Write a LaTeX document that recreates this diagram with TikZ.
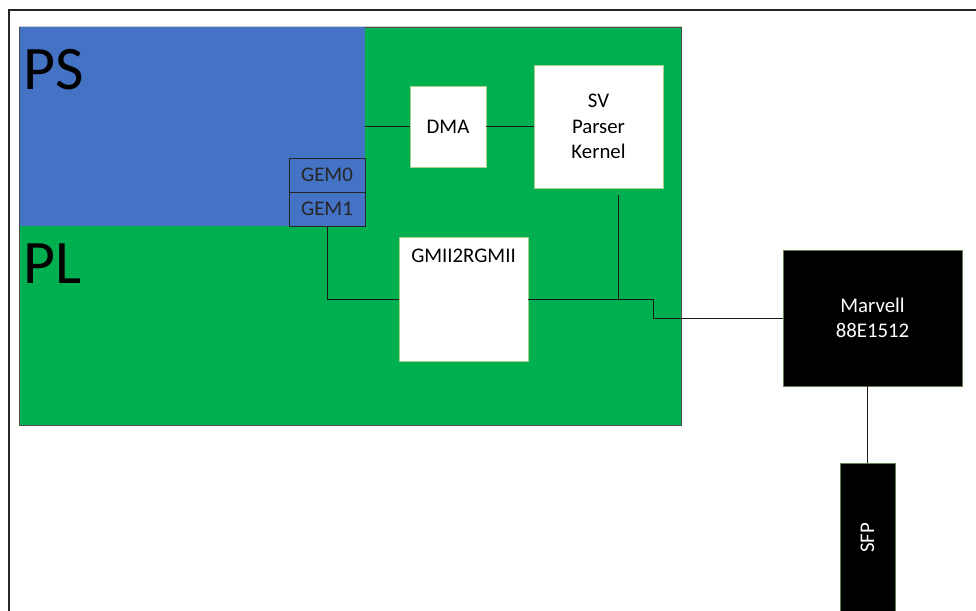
\documentclass[tikz,border=0pt]{standalone}
\usepackage{fontspec}
\setmainfont{Carlito}
\usepackage{xcolor}
\usetikzlibrary{positioning}
\definecolor{psblue}{HTML}{4472C4}
\definecolor{plgreen}{HTML}{00B050}
\definecolor{boxedge}{HTML}{A9D18E}
\begin{document}
\begin{tikzpicture}[
  x=0.025cm, y=-0.025cm,
  font=\fontsize{14.8}{18}\selectfont,
  region/.style={rectangle, inner sep=0pt},
  blk/.style={draw=boxedge, fill=white, line width=0.5pt, align=center, inner sep=2pt},
  chip/.style={draw=boxedge!60!black, fill=black, text=white, line width=0.5pt, align=center, inner sep=2pt},
  gem/.style={draw=black!85, fill=psblue, line width=0.6pt, text=black!85,
              minimum width=1.9cm, minimum height=0.85cm, inner sep=0pt},
  big/.style={font=\fontsize{44}{44}\selectfont, inner sep=0pt},
  wire/.style={line width=0.6pt, black!90},
]
\useasboundingbox (0,0) rectangle (976,611);
% ---- outer frame --------------------------------------------------------
\draw[line width=1pt, black!85] (9,611) -- (9,10) -- (976,10);
% ---- PL / PS regions ----------------------------------------------------
\node[region, fill=plgreen, draw=black!70, line width=0.6pt,
      minimum width=16.525cm, minimum height=9.95cm] (pl) at (350.5,226) {};
\draw[black!20, line width=0.6pt] (pl.north west) -- (pl.north east);
\node[region, fill=psblue, minimum width=8.625cm, minimum height=4.975cm]
  (ps) at (192.5,126.5) {};
\node[big, anchor=base west] (pslbl) at (23,90) {PS};
\node[big, anchor=base west] (pllbl) at (23,283) {PL};
% ---- GEM ports ----------------------------------------------------------
\node[gem] (gem0) at (327,175) {GEM0};
\node[gem] (gem1) at (327,209) {GEM1};
% ---- PL blocks ----------------------------------------------------------
\node[blk, minimum width=1.9cm, minimum height=2.025cm] (dma) at (448,126.5) {DMA};
\node[blk, minimum width=3.225cm, minimum height=3.075cm] (sv) at (598.5,126.5)
  {SV\\Parser\\Kernel};
\node[blk, minimum width=3.225cm, minimum height=3.1cm,
      label={[anchor=north, yshift=-2.3mm, inner sep=2pt]north:GMII2RGMII}]
  (gmii) at (463.5,299) {};
% ---- external parts -----------------------------------------------------
\node[chip, minimum width=4.475cm, minimum height=3.4cm] (marvell) at (872.5,318)
  {Marvell\\88E1512};
\node[chip, minimum width=1.375cm, minimum height=3.75cm] (sfp) at (867.5,538)
  {\rotatebox{90}{SFP}};
% ---- wires --------------------------------------------------------------
\coordinate (svtap) at (618,195);
\coordinate (jog) at (653,299);
\draw[wire] (ps.east) -- (dma.west);
\draw[wire] (dma.east) -- (sv.west);
\draw[wire] (gem1.south) |- (gmii.west);
\draw[wire] (svtap) |- (gmii.east);
\draw[wire] (gmii.east) -- (jog) |- (marvell.west);
\draw[wire] (marvell.south -| sfp.north) -- (sfp.north);
\end{tikzpicture}
\end{document}
